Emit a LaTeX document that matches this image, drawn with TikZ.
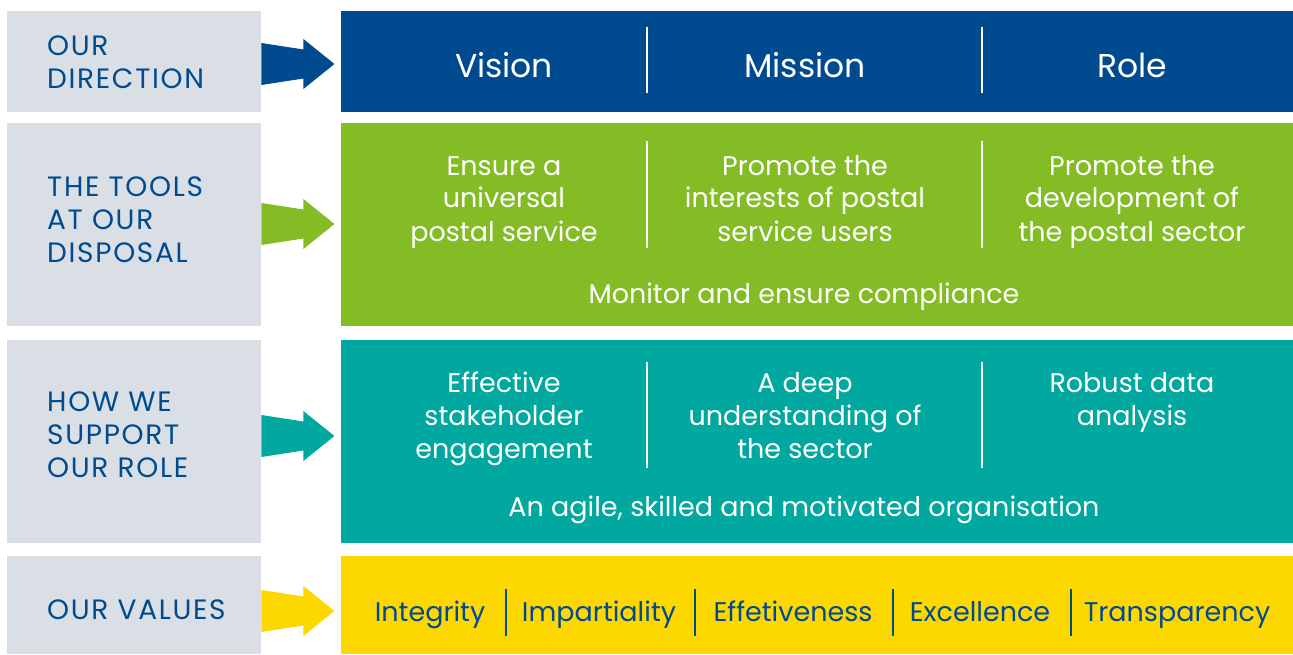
\documentclass[tikz,border=0pt]{standalone}
\usepackage{fontspec}
\setmainfont{Poppins}
\newfontfamily\capsfont[LetterSpace=6]{Poppins}
\usetikzlibrary{positioning}

\definecolor{ofblue}{RGB}{0,74,143}
\definecolor{ofgreen}{RGB}{132,188,38}
\definecolor{ofteal}{RGB}{0,168,160}
\definecolor{ofyellow}{RGB}{252,216,0}
\definecolor{ofgrey}{RGB}{217,223,229}

\newcommand\bodyfont{\fontsize{27}{33}\selectfont}
\newcommand\headfont{\fontsize{33}{36}\selectfont}

% fat arrow with a narrowing tail, #2 is the point where the tail starts
\newcommand\fatarrow[2]{%
  \fill[#1,shift={(#2)}] (0,-21) -- (42,-14.5) -- (42,-25) -- (73,0)
    -- (42,25) -- (42,14.5) -- (0,21) -- cycle;}

\begin{document}
\begin{tikzpicture}[x=1pt,y=-1pt,
  label box/.style={fill=ofgrey,anchor=north west,inner sep=0pt,minimum width=254pt},
  label txt/.style={text=ofblue,anchor=base west,align=left,inner sep=0pt,
    font=\capsfont\fontsize{28}{33}\selectfont},
  panel/.style={anchor=north west,inner sep=0pt,minimum width=952pt},
  txt/.style={align=center,text=white,font=\bodyfont,inner sep=0pt,anchor=base},
  val/.style={text=ofblue,font=\bodyfont,inner sep=0pt,anchor=base},
  sep/.style={line width=1.6pt}]

  \useasboundingbox (0,0) rectangle (1293,655);

  % left column (text nodes sit on the baseline of their last line)
  \node[label box,minimum height=101pt] (lab1) at (7,11) {};
  \node[label box,minimum height=203pt] (lab2) at (7,123) {};
  \node[label box,minimum height=203pt] (lab3) at (7,340) {};
  \node[label box,minimum height=98pt] (lab4) at (7,556) {};
  \node[label txt] (lab1txt) at (47,89) {OUR\\DIRECTION};
  \node[label txt] (lab2txt) at (47,262) {THE TOOLS\\AT OUR\\DISPOSAL};
  \node[label txt] (lab3txt) at (47,477) {HOW WE\\SUPPORT\\OUR ROLE};
  \node[label txt] (lab4txt) at (47,619) {OUR VALUES};

  % coloured panels
  \node[panel,fill=ofblue,minimum height=101pt] (dir) at (341,11) {};
  \node[panel,fill=ofgreen,minimum height=203pt] (tools) at (341,123) {};
  \node[panel,fill=ofteal,minimum height=203pt] (support) at (341,340) {};
  \node[panel,fill=ofyellow,minimum height=98pt] (values) at (341,556) {};

  % arrows
  \coordinate (a1) at (lab1.east |- 0,64);
  \coordinate (a2) at (lab2.east |- 0,224);
  \coordinate (a3) at (lab3.east |- 0,436);
  \coordinate (a4) at (lab4.east |- 0,611);
  \fatarrow{ofblue}{a1}
  \fatarrow{ofgreen}{a2}
  \fatarrow{ofteal}{a3}
  \fatarrow{ofyellow}{a4}

  % direction
  \node[txt,font=\headfont] (vision) at (504,78) {Vision};
  \node[txt,font=\headfont] (mission) at (805,78) {Mission};
  \node[txt,font=\headfont] (role) at (1132,78) {Role};
  \draw[sep,white] (647,27) -- (647,93) (982,27) -- (982,93);

  % tools
  \node[txt] (univ) at (504,241) {Ensure a\\universal\\postal service};
  \node[txt] (users) at (805,241) {Promote the\\interests of postal\\service users};
  \node[txt] (sector) at (1132,241) {Promote the\\development of\\the postal sector};
  \node[txt] (monitor) at (804,303) {Monitor and ensure compliance};
  \draw[sep,white] (647,141) -- (647,248) (982,141) -- (982,248);

  % support
  \node[txt] (engage) at (504,458) {Effective\\stakeholder\\engagement};
  \node[txt] (deep) at (805,458) {A deep\\understanding of\\the sector};
  \node[txt] (data) at (1132,425) {Robust data\\analysis};
  \node[txt] (agile) at (804,516) {An agile, skilled and motivated organisation};
  \draw[sep,white] (647,362) -- (647,468) (982,362) -- (982,468);

  % values
  \node[val] (v1) at (430,621) {Integrity};
  \node[val] (v2) at (599,621) {Impartiality};
  \node[val] (v3) at (793,621) {Effetiveness};
  \node[val] (v4) at (980,621) {Excellence};
  \node[val] (v5) at (1177,621) {Transparency};
  \foreach \x in {506,695,893,1071}
    \draw[sep,ofblue] (\x,589) -- (\x,636);

\end{tikzpicture}
\end{document}
